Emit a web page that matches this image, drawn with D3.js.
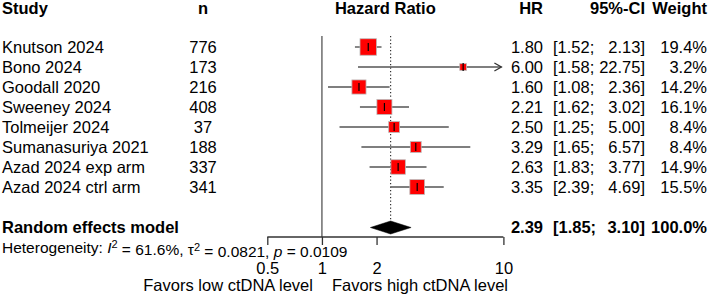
<!DOCTYPE html>
<html><head><meta charset="utf-8">
<script src="https://cdn.jsdelivr.net/npm/d3@7"></script>
<style>
html,body{margin:0;padding:0;background:#fff;}
svg{display:block;font-family:"Liberation Sans",Arial,sans-serif;}
</style></head>
<body><svg id="c" width="710" height="295"></svg>
<script>
const studies = ["Knutson 2024","Bono 2024","Goodall 2020","Sweeney 2024","Tolmeijer 2024","Sumanasuriya 2021","Azad 2024 exp arm","Azad 2024 ctrl arm"];
const nValues = [776,173,216,408,37,188,337,341];
const hr = [1.80,6.00,1.60,2.21,2.50,3.29,2.63,3.35];
const lower = [1.52,1.58,1.08,1.62,1.25,1.65,1.83,2.39];
const upper = [2.13,22.75,2.36,3.02,5.00,6.57,3.77,4.69];
const weights = [19.4,3.2,14.2,16.1,8.4,8.4,14.9,15.5];
const summaryLabel = "Random effects model";
const summary = {hr:2.39, lower:1.85, upper:3.10, weight:100.0};
const tickValues = [0.5,1,2,10];
const headers = {study:"Study", n:"n", plot:"Hazard Ratio", hr:"HR", ci:"95%-CI", weight:"Weight"};
const favorLeft = "Favors low ctDNA level", favorRight = "Favors high ctDNA level";

const svg = d3.select("#c");
const fs = 16.5;
const x = d3.scaleLog().domain([0.5,10]).range([267.3,503.4]);
const y = d3.scaleLinear().domain([0,1]).range([47,67]);
const ySum = 227.5, axisY = 237;
const f2 = d3.format(".2f"), f1 = d3.format(".1f");
const col = {study:2, n:203, hr:543, ciL:553, ciR:645, w:707};

function txt(xp, yp, s, anchor, bold, size){
  return svg.append("text").attr("x",xp).attr("y",yp).attr("dy","0.35em")
    .attr("text-anchor",anchor||"start").attr("font-size",size||fs)
    .attr("font-weight",bold?"bold":"normal").attr("fill","#000").text(s);
}
// headers
txt(col.study,8,headers.study,"start",true);
txt(col.n,8,headers.n,"middle",true);
txt((x(0.5)+x(10))/2,8,headers.plot,"middle",true);
txt(col.hr,8,headers.hr,"end",true);
txt(col.ciR,8,headers.ci,"end",true);
txt(col.w,8,headers.weight,"end",true);

// reference lines
svg.append("line").attr("x1",x(1)).attr("x2",x(1)).attr("y1",36).attr("y2",axisY)
  .attr("stroke","#555").attr("stroke-width",1.3);
svg.append("line").attr("x1",x(summary.hr)).attr("x2",x(summary.hr)).attr("y1",36).attr("y2",ySum-6)
  .attr("stroke","#333").attr("stroke-width",1.2).attr("stroke-dasharray","1.3,2.2");

// rows
studies.forEach((s,i)=>{
  const yy = y(i);
  txt(col.study,yy,s,"start");
  txt(col.n,yy,nValues[i],"middle");
  txt(col.hr,yy,f2(hr[i]),"end");
  txt(col.ciL,yy,"["+f2(lower[i])+";","start");
  txt(col.ciR,yy,f2(upper[i])+"]","end");
  txt(col.w,yy,f1(weights[i])+"%","end");
  const lo = Math.max(lower[i],0.5), hi = Math.min(upper[i],10);
  const xe = upper[i]>10 ? x(10)-2 : x(hi);
  svg.append("line").attr("x1",x(lo)).attr("x2",xe).attr("y1",yy).attr("y2",yy)
    .attr("stroke","#555").attr("stroke-width",1.4);
  if(upper[i]>10){
    svg.append("path").attr("d",`M${xe-7},${yy-4}L${xe},${yy}L${xe-7},${yy+4}`)
      .attr("fill","none").attr("stroke","#333").attr("stroke-width",1.3);
  }
  const side = 3.75*Math.sqrt(weights[i]);
  svg.append("rect").attr("x",x(hr[i])-side/2).attr("y",yy-side/2).attr("width",side).attr("height",side)
    .attr("fill","#ff0000").attr("stroke","#bbb").attr("stroke-width",0.8);
  svg.append("line").attr("x1",x(hr[i])).attr("x2",x(hr[i])).attr("y1",yy-4).attr("y2",yy+4)
    .attr("stroke","#000").attr("stroke-width",1.2);
});

// summary
txt(col.study,ySum,summaryLabel,"start",true);
txt(col.hr,ySum,f2(summary.hr),"end",true);
txt(col.ciL,ySum,"["+f2(summary.lower)+";","start",true);
txt(col.ciR,ySum,f2(summary.upper)+"]","end",true);
txt(col.w,ySum,f1(summary.weight)+"%","end",true);
svg.append("path").attr("d",`M${x(summary.lower)},${ySum}L${x(summary.hr)},${ySum-6.5}L${x(summary.upper)},${ySum}L${x(summary.hr)},${ySum+6.5}Z`)
  .attr("fill","#000").attr("stroke","#000").attr("stroke-width",0.5);

// heterogeneity
const het = svg.append("text").attr("x",col.study).attr("y",248).attr("dy","0.35em").attr("font-size",15.5).attr("fill","#000");
het.append("tspan").text("Heterogeneity: ");
het.append("tspan").attr("font-style","italic").text("I");
het.append("tspan").attr("dy","-0.45em").attr("font-size",11).text("2");
het.append("tspan").attr("dy","0.45em").text(" = 61.6%, \u03c4");
het.append("tspan").attr("dy","-0.45em").attr("font-size",11).text("2");
het.append("tspan").attr("dy","0.45em").text(" = 0.0821, ");
het.append("tspan").attr("font-style","italic").text("p");
het.append("tspan").text(" = 0.0109");

// axis
const axis = d3.axisBottom(x).tickValues(tickValues).tickFormat(d=>String(d)).tickSizeOuter(0).tickSize(8).tickPadding(17);
const ag = svg.append("g").attr("transform",`translate(0,${axisY})`).call(axis);
ag.select(".domain").attr("stroke","#333").attr("stroke-width",1.3).attr("d",`M${x(0.5)},0H${x(10)}`);
ag.selectAll(".tick line").attr("stroke","#333").attr("stroke-width",1.3);
ag.selectAll(".tick text").attr("font-size",fs).attr("font-family","Liberation Sans, Arial, sans-serif").attr("fill","#000");
ag.selectAll(".tick").filter(d=>d===0.5||d===10).select("line").attr("y1",0);

txt(x(1)-9,285,favorLeft,"end");
txt(x(1)+10,285,favorRight,"start");
</script></body></html>
